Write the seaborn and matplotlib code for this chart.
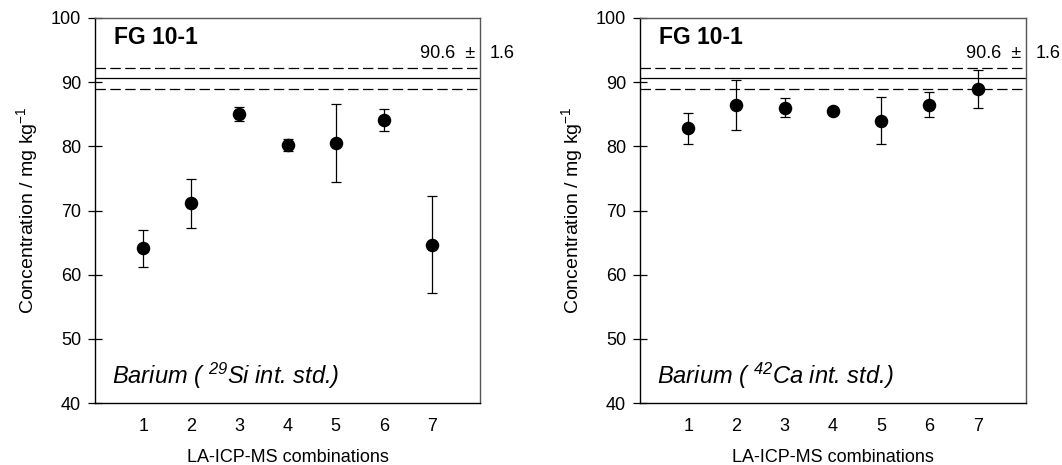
import numpy as np
import pandas as pd
import matplotlib
matplotlib.use("Agg")
import matplotlib.pyplot as plt
import seaborn as sns

# ---- data ----
combinations = [1, 2, 3, 4, 5, 6, 7]
si_mean = [64.1, 71.1, 85.1, 80.2, 80.5, 84.1, 64.7]
si_err = [2.85, 3.75, 1.1, 0.95, 6.1, 1.7, 7.5]
ca_mean = [82.8, 86.4, 86.0, 85.5, 84.0, 86.5, 88.9]
ca_err = [2.4, 3.9, 1.5, 0.3, 3.7, 1.9, 3.0]
ref_value = 90.6
ref_unc = 1.6
sample_name = "FG 10-1"
panel_labels = [r"Barium ( $^{29}$Si int. std.)",
                r"Barium ( $^{42}$Ca int. std.)"]
y_ticks = [40, 50, 60, 70, 80, 90, 100]

sns.set_style("ticks")
plt.rcParams['font.family'] = ['Liberation Sans', 'DejaVu Sans']
plt.rcParams['mathtext.fontset'] = 'custom'
plt.rcParams['mathtext.rm'] = 'Liberation Sans:italic'
plt.rcParams['mathtext.it'] = 'Liberation Sans:italic'
plt.rcParams['mathtext.sf'] = 'Liberation Sans'
plt.rcParams['mathtext.bf'] = 'Liberation Sans:bold'
plt.rcParams['lines.scale_dashes'] = False
plt.rcParams['text.color'] = 'black'
plt.rcParams['axes.labelcolor'] = 'black'
plt.rcParams['xtick.color'] = 'black'
plt.rcParams['ytick.color'] = 'black'

fig = plt.figure(figsize=(10.62, 4.65), dpi=100)
ax1 = fig.add_axes([0.0895, 0.1333, 0.3625, 0.828])
ax2 = fig.add_axes([0.6026, 0.1333, 0.3635, 0.828])

for ax, means, errs, lab in [(ax1, si_mean, si_err, panel_labels[0]),
                             (ax2, ca_mean, ca_err, panel_labels[1])]:
    df = pd.DataFrame({"comb": combinations, "conc": means, "err": errs})
    ax.axhline(ref_value, color="black", lw=0.9, zorder=1)
    ax.axhline(ref_value + ref_unc, color="black", lw=0.9, ls=(0, (7.5, 3.2)), zorder=1)
    ax.axhline(ref_value - ref_unc, color="black", lw=0.9, ls=(0, (7.5, 3.2)), zorder=1)
    ax.errorbar(df["comb"], df["conc"], yerr=df["err"], fmt="none",
                ecolor="black", elinewidth=0.9, capsize=3.5, capthick=0.9, zorder=2)
    sns.scatterplot(data=df, x="comb", y="conc", ax=ax, color="black",
                    s=95, edgecolor="black", linewidth=0, zorder=3, legend=False)
    ax.set_xlim(0, 8)
    ax.set_ylim(40, 100)
    ax.set_xticks(combinations)
    ax.set_yticks(y_ticks)
    ax.tick_params(axis="x", length=0, pad=11, labelsize=13)
    ax.tick_params(axis="y", direction="inout", length=10, width=0.9, pad=5, labelsize=13)
    ax.set_xlabel("LA-ICP-MS combinations", fontsize=13, labelpad=10)
    ax.set_ylabel(r"Concentration / mg kg$^{\mathsf{-1}}$", fontsize=14, labelpad=8)
    for side in ["left", "bottom"]:
        ax.spines[side].set_color("black")
        ax.spines[side].set_linewidth(1.0)
    for side in ["top", "right"]:
        ax.spines[side].set_color("#555555")
        ax.spines[side].set_linewidth(1.0)
    ax.text(0.4, 97.0, sample_name, fontsize=16.5, fontweight="bold", va="center", ha="left")
    ax.text(6.76, 94.4, "90.6  \u00b1", fontsize=13, va="center", ha="left", clip_on=False)
    ax.text(8.2, 94.4, "1.6", fontsize=13, va="center", ha="left", clip_on=False)
    ax.text(0.35, 44.2, lab, fontsize=17, style="italic", va="center", ha="left")

fig.savefig("out.png", dpi=100)
